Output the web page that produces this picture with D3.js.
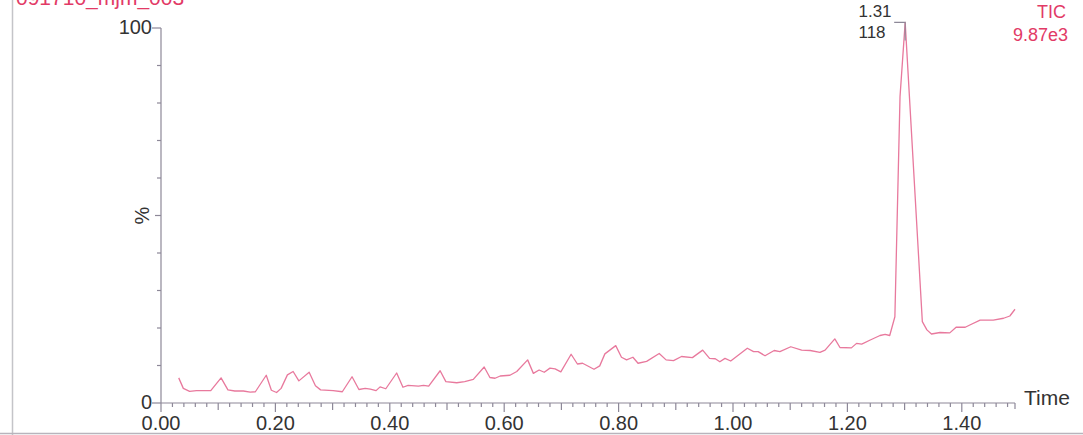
<!DOCTYPE html>
<html>
<head>
<meta charset="utf-8">
<script src="https://cdn.jsdelivr.net/npm/d3@7"></script>
<style>
  html, body { margin: 0; padding: 0; background: #fff; }
  svg { display: block; font-family: "Liberation Sans", Arial, sans-serif; }
</style>
</head>
<body>
<svg id="chart"></svg>
<script>
// retention time (min) and relative intensity (%)
const times = [0.031, 0.039, 0.050, 0.062, 0.087, 0.105, 0.117, 0.129, 0.144, 0.156, 0.165, 0.184, 0.193, 0.202, 0.210,
    0.221, 0.231, 0.241, 0.259, 0.270, 0.279, 0.301, 0.317, 0.334, 0.346, 0.357, 0.366, 0.376, 0.383, 0.393,
    0.412, 0.423, 0.432, 0.450, 0.459, 0.468, 0.488, 0.498, 0.517, 0.531, 0.546, 0.565, 0.575, 0.584, 0.593,
    0.610, 0.622, 0.641, 0.651, 0.661, 0.670, 0.680, 0.689, 0.699, 0.717, 0.728, 0.737, 0.757, 0.767, 0.776,
    0.795, 0.805, 0.814, 0.825, 0.834, 0.849, 0.871, 0.883, 0.896, 0.910, 0.929, 0.947, 0.959, 0.969, 0.977,
    0.986, 0.996, 1.025, 1.036, 1.044, 1.056, 1.072, 1.082, 1.101, 1.120, 1.135, 1.152, 1.161, 1.178, 1.187,
    1.207, 1.216, 1.225, 1.240, 1.257, 1.266, 1.274, 1.283, 1.292, 1.301, 1.331, 1.339, 1.347, 1.362, 1.379,
    1.390, 1.406, 1.414, 1.432, 1.455, 1.473, 1.484, 1.493]
const intensity = [6.7, 3.9, 3.1, 3.3, 3.3, 6.7, 3.5, 3.2, 3.2, 2.9, 3.0, 7.4, 3.4, 2.8, 3.9,
    7.5, 8.4, 5.9, 8.2, 4.6, 3.5, 3.3, 3.0, 7.0, 3.6, 3.9, 3.7, 3.3, 4.3, 3.8,
    8.0, 4.2, 4.7, 4.5, 4.7, 4.5, 8.6, 5.7, 5.4, 5.7, 6.3, 9.6, 6.8, 6.6, 7.2,
    7.4, 8.4, 11.5, 7.9, 8.8, 8.2, 9.3, 9.1, 8.3, 13.0, 10.4, 10.6, 9.0, 9.9, 13.1,
    15.3, 12.2, 11.5, 12.2, 10.6, 11.1, 13.2, 11.5, 11.3, 12.4, 12.1, 14.1, 11.9, 11.8, 11.0,
    11.9, 11.2, 14.6, 13.7, 13.7, 12.6, 14.0, 13.7, 15.0, 14.1, 14.0, 13.5, 14.1, 17.1, 14.8,
    14.7, 15.9, 15.7, 16.8, 18.0, 18.3, 18.0, 23.0, 81.7, 101.5, 21.7, 19.5, 18.4, 18.8, 18.7,
    20.2, 20.2, 20.8, 22.1, 22.1, 22.6, 23.2, 25.0]

const xTickLabels = ['0.00', '0.20', '0.40', '0.60', '0.80', '1.00', '1.20', '1.40']
const yTickLabels = ['0', '100']
const peakTime = '1.31'
const peakArea = '118'
const traceName = 'TIC'
const traceMax = '9.87e3'
const sampleName = '091710_mjm_003'

const width = 1083, height = 435
const margin = {left: 161}

const svg = d3.select('#chart').attr('width', width).attr('height', height)
svg.append('rect').attr('width', width).attr('height', height).attr('fill', '#fff')

const x = d3.scaleLinear().domain([0, 1.493]).range([margin.left, margin.left + 1.493 * 572])
const y = d3.scaleLinear().domain([0, 100]).range([403, 28])

const axisColor = '#8d8898'
const textColor = '#333'
const red = '#e23a66'

// page frame from the scan
svg.append('line').attr('x1', 12.5).attr('x2', 12.5).attr('y1', 0).attr('y2', height)
    .attr('stroke', '#c4c4c8').attr('stroke-width', 1.5)
svg.append('line').attr('x1', 0).attr('x2', width).attr('y1', 433.5).attr('y2', 433.5)
    .attr('stroke', '#b8b4bc').attr('stroke-width', 1.5)

// sample name, cut off at the top as in the scan
svg.append('text').attr('x', 16).attr('y', 5)
    .attr('fill', red).attr('font-size', 21).text(sampleName)

// y axis
const gy = svg.append('g').attr('stroke', axisColor).attr('stroke-width', 1.2)
gy.append('line').attr('x1', x(0)).attr('x2', x(0)).attr('y1', y(100)).attr('y2', y(0))
d3.range(0, 101, 10).forEach(v => {
    const len = (v === 0 || v === 100) ? 9 : (v === 50 ? 6 : 4)
    gy.append('line').attr('x1', x(0) - len).attr('x2', x(0)).attr('y1', y(v)).attr('y2', y(v))
})
svg.selectAll('text.ytick').data(yTickLabels).enter().append('text')
    .attr('class', 'ytick')
    .attr('x', x(0) - 9).attr('y', d => y(+d)).attr('dy', '0.3em')
    .attr('text-anchor', 'end').attr('font-size', 20).attr('fill', textColor)
    .text(d => d)
svg.append('text')
    .attr('transform', `translate(${x(0) - 12}, ${y(50)}) rotate(-90)`)
    .attr('text-anchor', 'middle').attr('font-size', 20).attr('fill', textColor)
    .text('%')

// x axis
const gx = svg.append('g').attr('stroke', axisColor).attr('stroke-width', 1.2)
gx.append('line').attr('x1', x(0)).attr('x2', x(1.493)).attr('y1', y(0)).attr('y2', y(0))
d3.range(0, 75).forEach(i => {
    const t = i * 0.02
    const len = i % 10 === 0 ? 9 : (i % 5 === 0 ? 7 : 4)
    gx.append('line').attr('x1', x(t)).attr('x2', x(t)).attr('y1', y(0)).attr('y2', y(0) + len)
})
gx.append('line').attr('x1', x(1.493)).attr('x2', x(1.493)).attr('y1', y(0)).attr('y2', y(0) + 6)
svg.selectAll('text.xtick').data(xTickLabels).enter().append('text')
    .attr('class', 'xtick')
    .attr('x', d => x(+d)).attr('y', 430)
    .attr('text-anchor', 'middle').attr('font-size', 20).attr('fill', textColor)
    .text(d => d)
svg.append('text').attr('x', 1024).attr('y', 405)
    .attr('font-size', 21).attr('fill', textColor).text('Time')

// trace
const data = times.map((t, i) => ({t, v: intensity[i]}))
const line = d3.line().x(d => x(d.t)).y(d => y(d.v))
svg.append('path').datum(data)
    .attr('fill', 'none').attr('stroke', '#e8799d').attr('stroke-width', 1.3)
    .attr('stroke-linejoin', 'round')
    .attr('d', line)

// peak label with bracket
const peak = data[d3.maxIndex(data, d => d.v)]
svg.append('path')
    .attr('fill', 'none').attr('stroke', axisColor).attr('stroke-width', 1.1)
    .attr('d', `M${x(peak.t) - 11},${y(peak.v)}H${x(peak.t)}V${y(peak.v) + 18}`)
svg.append('text').attr('x', 875).attr('y', 17)
    .attr('text-anchor', 'middle').attr('font-size', 17).attr('fill', textColor).text(peakTime)
svg.append('text').attr('x', 872).attr('y', 38)
    .attr('text-anchor', 'middle').attr('font-size', 17).attr('fill', textColor).text(peakArea)

// trace info
svg.append('text').attr('x', 1066).attr('y', 18)
    .attr('text-anchor', 'end').attr('font-size', 18).attr('fill', red).text(traceName)
svg.append('text').attr('x', 1068).attr('y', 41)
    .attr('text-anchor', 'end').attr('font-size', 18).attr('fill', red).text(traceMax)
</script>
</body>
</html>
